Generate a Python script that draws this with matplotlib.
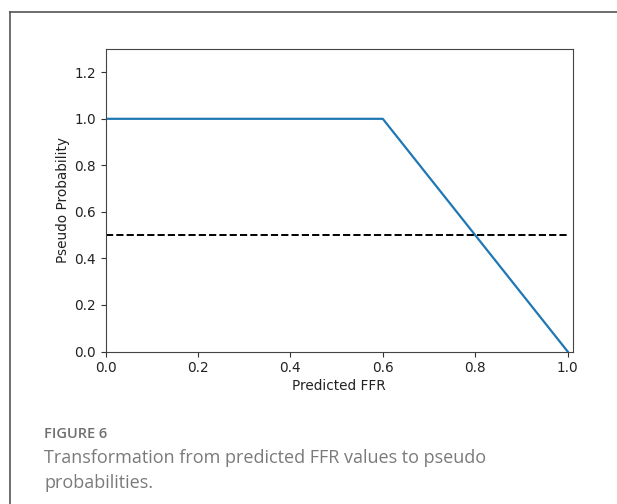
import matplotlib
matplotlib.use("Agg")
import matplotlib.pyplot as plt
from matplotlib.lines import Line2D

# curve knots: pseudo probability vs predicted FFR
ffr = [0.0, 0.6, 1.0]
prob = [1.0, 1.0, 0.0]
threshold = 0.5
xticks = [0.0, 0.2, 0.4, 0.6, 0.8, 1.0]
yticks = [0.0, 0.2, 0.4, 0.6, 0.8, 1.0, 1.2]

W, H = 617, 504
fig = plt.figure(figsize=(W / 100, H / 100), dpi=100)

# page frame (top and left edges only, cropped screenshot)
fig.add_artist(Line2D([10 / W, 1], [1 - 12 / H, 1 - 12 / H], color="#555555", lw=1.2))
fig.add_artist(Line2D([10 / W, 10 / W], [1 - 12 / H, 0], color="#555555", lw=1.2))

left, right, top, bottom = 105.5, 572.5, 49, 351.5
ax = fig.add_axes([left / W, 1 - bottom / H, (right - left) / W, (bottom - top) / H])

ax.plot(ffr, prob, color="#1f77b4", lw=1.6)
ax.hlines(threshold, 0, 1, colors="black", linestyles="--", lw=1.4)
ax.set_xlim(0, 1.0105)
ax.set_ylim(0, 1.3)
ax.set_xticks(xticks)
ax.set_yticks(yticks)
ax.tick_params(labelsize=9.8, color="#333333", labelcolor="#222222")
for s in ax.spines.values():
    s.set_color("#444444")
ax.set_xlabel("Predicted FFR", fontsize=9.8, color="#222222", labelpad=3)
ax.set_ylabel("Pseudo Probability", fontsize=9.8, color="#222222", labelpad=3)

fig.text(44 / W, 1 - 433.5 / H, "FIGURE 6", fontsize=10.5, color="#707070",
         family="Open Sans", weight="semibold", va="center")
fig.text(44 / W, 1 - 470.5 / H, "Transformation from predicted FFR values to pseudo\nprobabilities.",
         fontsize=13, color="#7a7a7a", family="Open Sans", va="center", linespacing=1.55)

fig.savefig("out.png", dpi=100)
